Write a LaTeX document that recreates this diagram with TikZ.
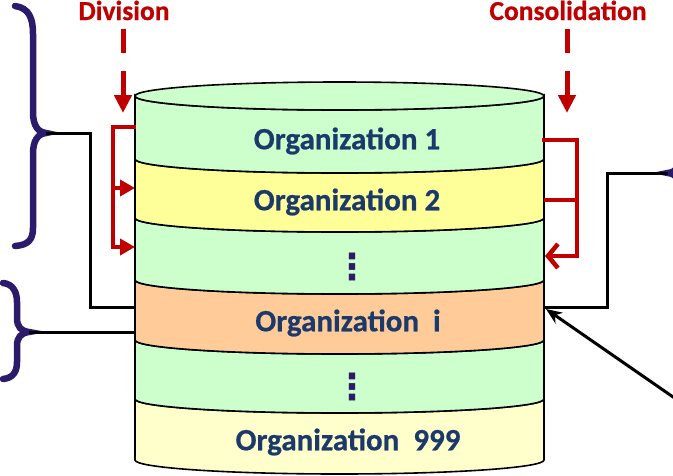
\documentclass[tikz,border=0pt]{standalone}
\usepackage{fontspec}
\newfontfamily\calib{Carlito}[BoldFeatures={FakeBold=0.6}]
\newfontfamily\djv{DejaVu Sans}
\usetikzlibrary{arrows.meta}
\definecolor{bandgreen}{HTML}{CCFFCC}
\definecolor{bandyellow}{HTML}{FFFF99}
\definecolor{bandorange}{HTML}{FFCC99}
\definecolor{bandpale}{HTML}{FFFFCC}
\definecolor{orgblue}{HTML}{1B3A6B}
\definecolor{darkred}{HTML}{C00000}
\definecolor{bracepurple}{HTML}{2C1B6B}
\tikzset{
  band/.style={draw=black,line width=1.6pt},
  orgtext/.style={font=\calib\bfseries\fontsize{31}{33}\selectfont,text=orgblue,inner sep=0pt},
  dotstext/.style={font=\djv\bfseries\fontsize{36}{38}\selectfont,text=bracepurple,inner sep=0pt},
  redlabel/.style={font=\calib\bfseries\fontsize{27.5}{29}\selectfont,text=darkred,inner sep=0pt,anchor=base},
  reddash/.style={draw=darkred,line width=5pt,dash pattern=on 24pt off 18pt,-{Triangle[length=18pt,width=17pt]}},
  redline/.style={draw=darkred,line width=4.5pt},
  bracestyle/.style={draw=bracepurple,line width=6.5pt,line cap=round},
  blackline/.style={draw=black,line width=3pt}
}
\begin{document}
\begin{tikzpicture}[x=1pt,y=-1pt]
\useasboundingbox (0,0) rectangle (673,475);
\clip (0,0) rectangle (673,475);
\def\ry{14pt}
\def\rx{204.5pt}
% ---- cylinder bands (side y values: 96,159,218,280,340,399,460)
\path[band,fill=bandpale] (135,399) -- (135,460) arc[start angle=180,end angle=360,x radius=\rx,y radius=\ry] -- (544,399) arc[start angle=0,end angle=-180,x radius=\rx,y radius=\ry] -- cycle;
\path[band,fill=bandgreen] (135,340) -- (135,399) arc[start angle=180,end angle=360,x radius=\rx,y radius=\ry] -- (544,340) arc[start angle=0,end angle=-180,x radius=\rx,y radius=\ry] -- cycle;
\path[band,fill=bandorange] (135,280) -- (135,340) arc[start angle=180,end angle=360,x radius=\rx,y radius=\ry] -- (544,280) arc[start angle=0,end angle=-180,x radius=\rx,y radius=\ry] -- cycle;
\path[band,fill=bandgreen] (135,218) -- (135,280) arc[start angle=180,end angle=360,x radius=\rx,y radius=\ry] -- (544,218) arc[start angle=0,end angle=-180,x radius=\rx,y radius=\ry] -- cycle;
\path[band,fill=bandyellow] (135,159) -- (135,218) arc[start angle=180,end angle=360,x radius=\rx,y radius=\ry] -- (544,159) arc[start angle=0,end angle=-180,x radius=\rx,y radius=\ry] -- cycle;
\path[band,fill=bandgreen] (135,96) -- (135,159) arc[start angle=180,end angle=360,x radius=\rx,y radius=\ry] -- (544,96) arc[start angle=0,end angle=-180,x radius=\rx,y radius=\ry] -- cycle;
\path[band,fill=bandgreen] (339.5,96) ellipse[x radius=\rx,y radius=\ry];
% ---- texts
\node[orgtext] (org1) at (347,141) {Organization 1};
\node[orgtext] (org2) at (347,202) {Organization 2};
\node[dotstext] (dots1) at (352,267) {⋮};
\node[orgtext] (orgi) at (348,323) {Organization\ \ i};
\node[dotstext] (dots2) at (352,387) {⋮};
\node[orgtext] (org999) at (348,442) {Organization\ \ 999};
\node[redlabel] (div) at (124,20) {Division};
\node[redlabel] (cons) at (568,20) {Consolidation};
% ---- named points
\coordinate (divstart) at (123,29);
\coordinate (divend) at (123,113);
\coordinate (consstart) at (567,29);
\coordinate (consend) at (567,113);
\coordinate (dL1) at (136,127);
\coordinate (dL2) at (135,188);
\coordinate (dL3) at (135,247);
\coordinate (dM2) at (113,188);
\coordinate (cR1) at (544,140);
\coordinate (cR2) at (544,200);
\coordinate (cR3) at (545,256);
\coordinate (cM2) at (577,200);
\coordinate (bigtip) at (46,133);
\coordinate (smalltip) at (29,332);
\coordinate (righttip) at (668,173);
\coordinate (cylL1) at (135,307);
\coordinate (cylL2) at (135,332);
\coordinate (cylR1) at (544,307);
\coordinate (cylR2) at (546,309);
\coordinate (arrowstart) at (676,399);
% ---- red dashed arrows
\draw[reddash] (divstart) -- (divend);
\draw[reddash] (consstart) -- (consend);
% ---- division bracket
\draw[redline,-{Triangle[length=15pt,width=16pt]}] (dL1) -- (113,127) -- (113,247) -- (dL3);
\draw[redline,-{Triangle[length=15pt,width=16pt]}] (dM2) -- (dL2);
% ---- consolidation bracket
\draw[redline,line cap=rect,-{Straight Barb[length=10pt,width=24pt,line width=4.5pt]}] (cR1) -- (577,140) -- (577,256) -- (cR3);
\draw[redline] (cR2) -- (cM2);
% ---- braces
\draw[bracestyle] (15,6) .. controls (29,8) and (33,18) .. (33,34) -- (33,112) .. controls (33,126) and (38,132) .. (bigtip) .. controls (38,134) and (33,140) .. (33,154) -- (33,228) .. controls (33,240) and (28,245) .. (15,246);
\draw[bracestyle] (3,283) .. controls (13,284) and (17,292) .. (17,302) -- (17,318) .. controls (17,327) and (21,331) .. (smalltip) .. controls (21,333) and (17,337) .. (17,346) -- (17,362) .. controls (17,372) and (13,378) .. (3,379);
\draw[bracestyle] (700,100) .. controls (686,102) and (680,110) .. (680,125) -- (680,158) .. controls (680,167) and (676,172) .. (righttip) .. controls (676,174) and (680,179) .. (680,188) -- (680,220);
% ---- black connectors
\draw[blackline] (bigtip) -- (90,133) -- (90,307) -- (cylL1);
\draw[blackline] (smalltip) -- (cylL2);
\draw[blackline] (righttip) -- (607,173) -- (607,307) -- (cylR1);
\draw[blackline,-{Stealth[length=16pt,width=13pt]}] (arrowstart) -- (cylR2);
\end{tikzpicture}
\end{document}
